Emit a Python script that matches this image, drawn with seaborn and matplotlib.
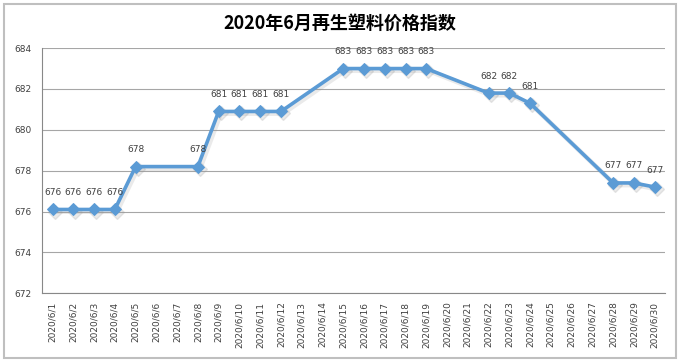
import numpy as np
import pandas as pd
import matplotlib
matplotlib.use("Agg")
import matplotlib.pyplot as plt
import seaborn as sns
from matplotlib.patches import Rectangle

sns.set_style("white")
plt.rcParams["font.family"] = ["Noto Sans CJK SC", "DejaVu Sans"]

# ----------------------------------------------------------------
# data (None = no quote that day)
# ----------------------------------------------------------------
dates = [f"2020/6/{d}" for d in range(1, 31)]
index_values = [676.1, 676.1, 676.1, 676.1, 678.2, None, None, 678.2, 680.9, 680.9,
                680.9, 680.9, None, None, 683.0, 683.0, 683.0, 683.0, 683.0, None,
                None, 681.8, 681.8, 681.3, None, None, None, 677.4, 677.4, 677.2]
point_labels = ["676", "676", "676", "676", "678", None, None, "678", "681", "681",
                "681", "681", None, None, "683", "683", "683", "683", "683", None,
                None, "682", "682", "681", None, None, None, "677", "677", "677"]

df = pd.DataFrame({"date": dates, "value": index_values, "label": point_labels})
df["pos"] = np.arange(len(df))
pts = df.dropna(subset=["value"])

line_color = "#5B9BD5"

fig = plt.figure(figsize=(6.8, 3.62), dpi=100)
ax = fig.add_axes([0.062, 0.19, 0.916, 0.677])

# grey outer frame like the original export
fig.patches.append(Rectangle((0.006, 0.011), 0.988, 0.978, transform=fig.transFigure,
                             fill=False, edgecolor="#BFBFBF", linewidth=1.5))

# soft shadow under the line
ax.plot(pts["pos"] + 0.1, pts["value"] - 0.1, color="#999999", alpha=0.2,
        linewidth=3.5, marker="D", markersize=7, zorder=2)
sns.lineplot(data=pts, x="pos", y="value", ax=ax, color=line_color, linewidth=2.6,
             marker="D", markersize=6, markeredgecolor=line_color, zorder=3)

for _, r in pts.iterrows():
    ax.annotate(r["label"], (r["pos"], r["value"]), xytext=(0, 9),
                textcoords="offset points", ha="center", va="bottom",
                fontsize=6.5, color="#404040", family="DejaVu Sans")

ax.set_xlim(-0.5, len(dates) - 0.5)
ax.set_ylim(672, 684)
ax.set_yticks(np.arange(672, 685, 2))
ax.set_xticks(np.arange(len(dates)))
ax.set_xticklabels(dates, rotation=90, fontsize=6.5, color="#404040", family="DejaVu Sans")
ax.set_xticks(np.arange(len(dates) + 1) - 0.5, minor=True)
ax.tick_params(axis="x", which="major", length=0, pad=6)
ax.tick_params(axis="x", which="minor", length=4, color="#888888", direction="out")
ax.tick_params(axis="y", length=4, color="#888888", labelsize=6.5, labelcolor="#404040")
for lab in ax.get_yticklabels():
    lab.set_family("DejaVu Sans")
ax.yaxis.grid(True, color="#A6A6A6", linewidth=0.8)
ax.set_xlabel("")
ax.set_ylabel("")

for side in ["top", "right"]:
    ax.spines[side].set_visible(False)
for side in ["left", "bottom"]:
    ax.spines[side].set_color("#888888")
    ax.spines[side].set_linewidth(0.8)

fig.text(0.5, 0.935, "2020年6月再生塑料价格指数", ha="center", va="center",
         fontsize=13, fontweight="bold", color="#000000")

plt.savefig("out.png", dpi=100)
plt.close()
